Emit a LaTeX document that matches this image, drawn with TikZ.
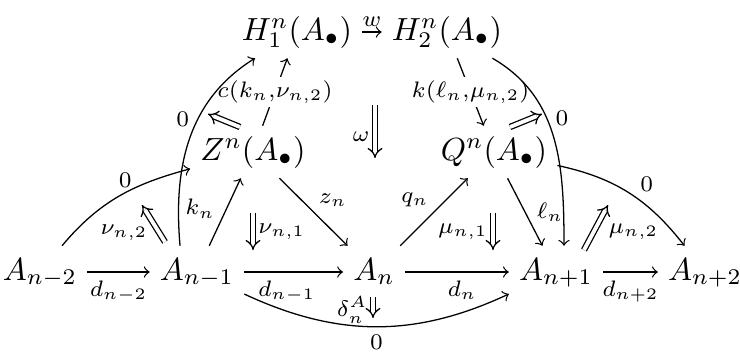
\documentclass[tikz,border=0pt]{standalone}
\usetikzlibrary{arrows.meta}
\begin{document}
\begin{tikzpicture}[
  x=0.3125pt,
  y=-0.3125pt,
  >=to,
  obj/.style={
    inner sep=3pt,
    text height=7.5pt,
    text depth=2.5pt
  },
  map/.style={->, line width=0.4pt},
  twocell/.style={double, double distance=1.2pt, line width=0.4pt, -{Implies}},
  lbl/.style={inner sep=1.5pt,
    execute at begin node={$\scriptstyle},
    execute at end node={$}},
  cut/.style={lbl, fill=white, inner sep=1pt}
]

\useasboundingbox (0,0) rectangle (740,352);

% objects
\node[obj] (am2) at (40,272) {$A_{n-2}$};
\node[obj] (am1) at (197,272) {$A_{n-1}$};
\node[obj] (a0) at (374,272) {$A_n$};
\node[obj] (ap1) at (556,272) {$A_{n+1}$};
\node[obj] (ap2) at (705,272) {$A_{n+2}$};
\node[obj] (zn) at (253,152) {$Z^n(A_\bullet)$};
\node[obj] (qn) at (494,152) {$Q^n(A_\bullet)$};
\node[obj] (h1) at (297,32) {$H^n_1(A_\bullet)$};
\node[obj] (h2) at (447,32) {$H^n_2(A_\bullet)$};

% bottom row
\draw[map] (am2) -- node[lbl, below=1pt, pos=0.5] {d_{n-2}} (am1);
\draw[map] (am1) -- node[lbl, below=1pt, pos=0.43] {d_{n-1}} (a0);
\draw[map] (a0) -- node[lbl, below=1pt, pos=0.55] {d_n} (ap1);
\draw[map] (ap1) -- node[lbl, below=1pt, pos=0.5] {d_{n+2}} (ap2);

% triangles
\draw[map] (am1) -- node[lbl, left=2pt, pos=0.55] {k_n} (zn);
\draw[map] (zn) -- node[lbl, above right] {z_n} (a0);
\draw[map] (a0) -- node[lbl, above left] {q_n} (qn);
\draw[map] (qn) -- node[lbl, right=2pt] {\ell_n} (ap1);
\draw[map] (h1) -- node[lbl, above] {w} (h2);
\draw[map] (zn) -- node[cut] {c(k_n,\nu_{n,2})} ([xshift=-2pt]h1);
\draw[map] (h2) -- node[cut] {k(\ell_n,\mu_{n,2})} (qn);

% zero maps
\draw[map] (am2) to[out=50, in=195] node[lbl, above, pos=0.55] {0} (zn);
\draw[map] (qn) to[out=-12, in=128] node[lbl, above right, pos=0.55] {0} (ap2);
\draw[map] ([xshift=-5.3pt]am1.north) to[out=95, in=212] node[lbl, left=1pt, pos=0.6] {0} (h1);
\draw[map] (h2) to[out=-30, in=90] node[lbl, right=1pt, pos=0.4] {0} ([xshift=2.5pt]ap1.north);
\draw[map] (am1) to[out=-25, in=205] node[lbl, below=1pt, pos=0.5] {0} (ap1);

% 2-cells
\coordinate (zc1) at (240,127);
\coordinate (zc2) at (208,114);
\coordinate (qc1) at (510,127);
\coordinate (qc2) at (542,114);
\coordinate (nu2a) at (165,242);
\coordinate (nu2b) at (142,205);
\coordinate (nu1a) at (253,213);
\coordinate (nu1b) at (253,250);
\coordinate (oma) at (375,105);
\coordinate (omb) at (375,158);
\coordinate (mu1a) at (493,213);
\coordinate (mu1b) at (493,250);
\coordinate (dla) at (373,297);
\coordinate (dlb) at (373,318);
\coordinate (mu2a) at (584,250);
\coordinate (mu2b) at (608,205);

\draw[twocell] (zc1) -- (zc2);
\draw[twocell] (qc1) -- (qc2);
\draw[twocell] (nu2a) -- node[lbl, left=2pt, pos=0.25] {\nu_{n,2}} (nu2b);
\draw[twocell] (nu1a) -- node[lbl, right] {\nu_{n,1}} (nu1b);
\draw[twocell] (oma) -- node[lbl, left, pos=0.6] {\omega} (omb);
\draw[twocell] (mu1a) -- node[lbl, left] {\mu_{n,1}} (mu1b);
\draw[twocell] (dla) -- node[lbl, left, pos=0.6] {\delta^A_n} (dlb);
\draw[twocell] (mu2a) -- node[lbl, right=3pt, pos=0.4] {\mu_{n,2}} (mu2b);

\end{tikzpicture}
\end{document}
